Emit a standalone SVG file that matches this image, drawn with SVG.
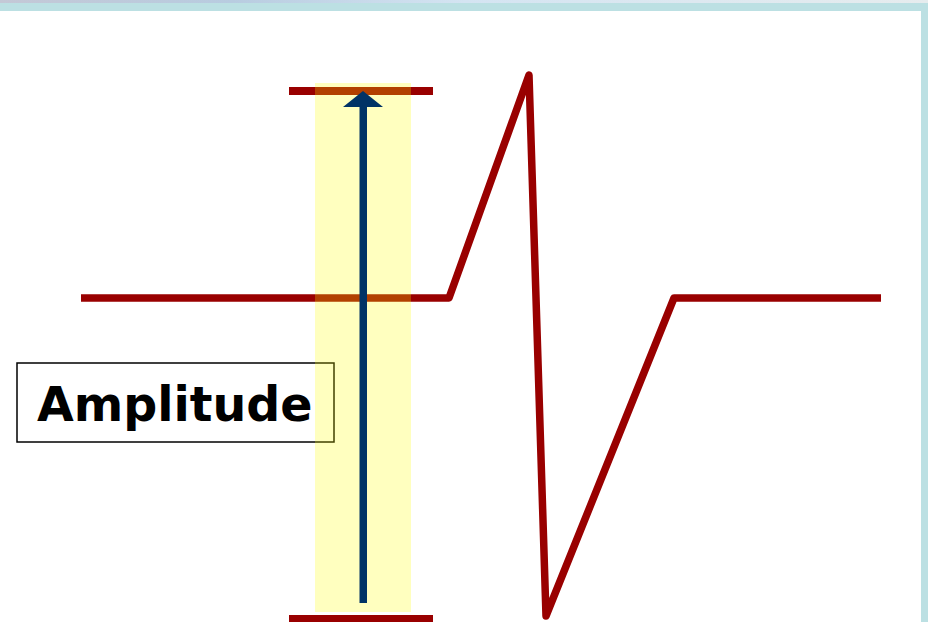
<svg xmlns="http://www.w3.org/2000/svg" width="928" height="622" viewBox="0 0 928 622">
  <defs>
    <linearGradient id="topg" x1="0" y1="0" x2="1" y2="0">
      <stop offset="0" stop-color="#C4C8D6"/>
      <stop offset="0.25" stop-color="#B8CCE0"/>
      <stop offset="0.5" stop-color="#D4E4F2"/>
      <stop offset="1" stop-color="#E6ECEE"/>
    </linearGradient>
    <style>
      .wave { fill: none; stroke: #990000; stroke-width: 7.5; stroke-linejoin: round; stroke-linecap: butt; }
      .bar { fill: #990000; }
      .label { font-family: "DejaVu Sans", sans-serif; font-weight: bold; font-size: 47.5px; fill: #000000; }
    </style>
  </defs>
  <rect x="0" y="0" width="928" height="622" fill="#FFFFFF"/>
  <rect x="0" y="0" width="928" height="3" fill="url(#topg)"/>
  <rect x="0" y="3" width="928" height="8" fill="#BCE0E3"/>
  <rect x="921" y="3" width="7" height="619" fill="#BCE0E3"/>

  <g id="connectors">
    <polyline class="wave" points="81,298 449,298 529,75 546,616 674,298 881,298"/>
  </g>
  <g id="top-bar">
    <rect class="bar" x="289" y="87" width="144" height="8"/>
  </g>
  <g id="bottom-bar">
    <rect class="bar" x="289" y="615" width="144" height="7"/>
  </g>
  <g id="amplitude-label">
    <rect x="17" y="363" width="317" height="79" fill="#FFFFFF" stroke="#000000" stroke-width="1.5"/>
    <text class="label" x="37" y="421">Amplitude</text>
  </g>
  <g id="highlight">
    <rect x="315" y="83" width="96" height="529" fill="#FFFF00" fill-opacity="0.25"/>
  </g>
  <g id="arrow">
    <rect x="359.5" y="105" width="7.5" height="498" fill="#003366"/>
    <polygon points="363,91 343,107 383,107" fill="#003366"/>
  </g>
</svg>
